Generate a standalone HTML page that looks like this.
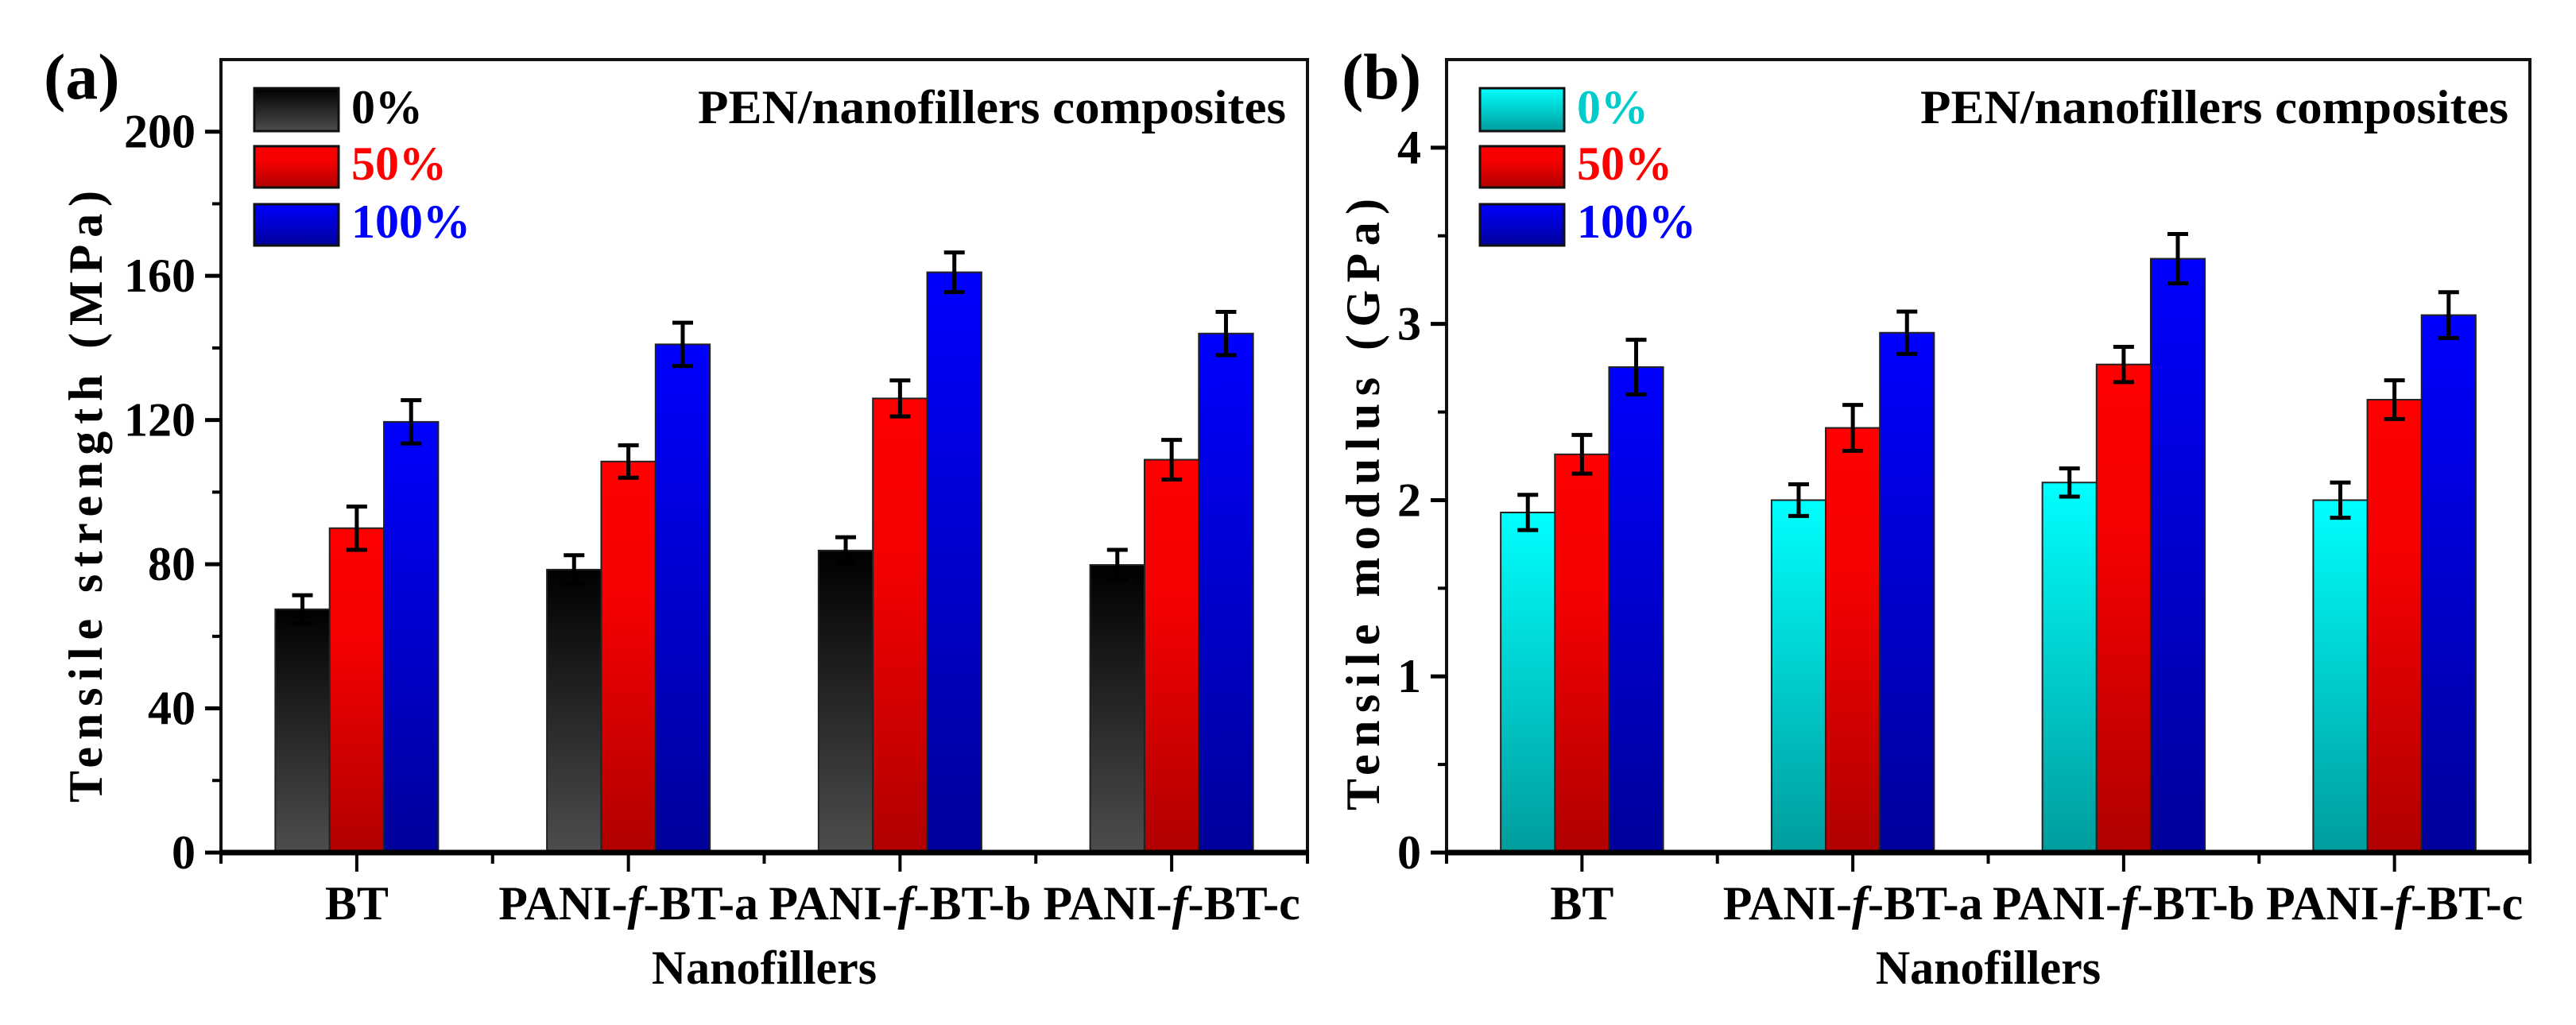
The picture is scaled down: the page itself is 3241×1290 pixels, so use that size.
<!DOCTYPE html>
<html><head><meta charset="utf-8"><style>
html,body{margin:0;padding:0;background:#fff;}
svg{display:block;font-family:"Liberation Serif",serif;font-weight:bold;}
</style></head><body>
<svg id="fig" width="3241" height="1290" viewBox="0 0 3241 1290" xmlns="http://www.w3.org/2000/svg">
<defs>
<linearGradient id="gGray" x1="0" y1="0" x2="0" y2="1"><stop offset="0" stop-color="#000"/><stop offset="1" stop-color="#4d4d4d"/></linearGradient>
<linearGradient id="gRed" x1="0" y1="0" x2="0" y2="1"><stop offset="0" stop-color="#ff0000"/><stop offset="0.35" stop-color="#f50000"/><stop offset="1" stop-color="#b00000"/></linearGradient>
<linearGradient id="gBlue" x1="0" y1="0" x2="0" y2="1"><stop offset="0" stop-color="#0000ff"/><stop offset="1" stop-color="#00009a"/></linearGradient>
<linearGradient id="gCyan" x1="0" y1="0" x2="0" y2="1"><stop offset="0" stop-color="#00ffff"/><stop offset="1" stop-color="#009c9c"/></linearGradient>
</defs>
</svg>
<script>
const categories = ["BT", "PANI-f-BT-a", "PANI-f-BT-b", "PANI-f-BT-c"];
const seriesNames = ["0%", "50%", "100%"];
// panel (a) tensile strength (MPa)
const strength0 = [67.5, 78.5, 83.8, 79.8];
const strength50 = [90, 108.5, 126, 109];
const strength100 = [119.5, 141, 161, 144];
const strengthErr0 = [3.9, 4.0, 3.7, 4.2];
const strengthErr50 = [6, 4.5, 5, 5.5];
const strengthErr100 = [6, 6, 5.5, 6];
const strengthTicks = [0, 40, 80, 120, 160, 200];
// panel (b) tensile modulus (GPa)
const modulus0 = [1.93, 2.0, 2.1, 2.0];
const modulus50 = [2.26, 2.41, 2.77, 2.57];
const modulus100 = [2.755, 2.95, 3.37, 3.05];
const modulusErr0 = [0.1, 0.09, 0.08, 0.1];
const modulusErr50 = [0.11, 0.13, 0.1, 0.11];
const modulusErr100 = [0.155, 0.12, 0.14, 0.13];
const modulusTicks = [0, 1, 2, 3, 4];

const NS = "http://www.w3.org/2000/svg";
const svg = document.getElementById("fig");
function mk(tag, attrs, parent, text) {
  const e = document.createElementNS(NS, tag);
  for (const k in attrs) e.setAttribute(k, attrs[k]);
  if (text !== undefined) e.textContent = text;
  (parent || svg).appendChild(e);
  return e;
}

function panel(cfg) {
  const g = mk("g", {});
  
  
  const L = cfg.left, R = cfg.right, T = 75, B = 1073;
  const y = v => B - (v / cfg.ymax) * (B - T);
  const cw = (R - L) / categories.length;
  const xc = i => L + cw * (i + 0.5);
  const bw = cw * 0.2;
  // bars
  const vals = [cfg.s0, cfg.s50, cfg.s100];
  const errs = [cfg.e0, cfg.e50, cfg.e100];
  const fills = [cfg.fill0, "url(#gRed)", "url(#gBlue)"];
  for (let s = 0; s < 3; s++) {
    for (let i = 0; i < categories.length; i++) {
      const x0 = xc(i) + (s - 1) * bw - bw / 2;
      const r = mk("rect", {x: x0, y: y(vals[s][i]), width: bw, height: B - y(vals[s][i]), fill: fills[s], stroke: "#222", "stroke-width": 2}, g);
      
      
      const cx = xc(i) + (s - 1) * bw;
      const yt = y(vals[s][i] + errs[s][i]), yb = y(vals[s][i] - errs[s][i]);
      const eb = mk("path", {d: `M${cx},${yt}V${yb}M${cx-13},${yt}H${cx+13}M${cx-13},${yb}H${cx+13}`, stroke: "#000", "stroke-width": 5, fill: "none"}, g);
      
      
    }
  }
  // frame
  const fr = mk("rect", {x: L, y: T, width: R - L, height: B - T, fill: "none", stroke: "#111", "stroke-width": 4}, g);
  
  
  mk("line", {x1: L - 2, x2: R + 2, y1: B, y2: B, stroke: "#000", "stroke-width": 7}, g);
  // y ticks
  cfg.ticks.forEach(t => {
    mk("line", {x1: L - 20, x2: L, y1: y(t), y2: y(t), stroke: "#000", "stroke-width": 5}, g);
    const tl = mk("text", {x: L - 32, y: y(t) + 20, "text-anchor": "end", "font-size": 60}, g, String(t));
    
    
    const m = t + cfg.minor;
    if (m < cfg.ymax) mk("line", {x1: L - 11, x2: L, y1: y(m), y2: y(m), stroke: "#000", "stroke-width": 4}, g);
  });
  // x ticks
  for (let i = 0; i <= categories.length; i++) {
    const xb = L + cw * i;
    mk("line", {x1: xb, x2: xb, y1: B, y2: B + 14, stroke: "#000", "stroke-width": 4}, g);
  }
  categories.forEach((c, i) => {
    mk("line", {x1: xc(i), x2: xc(i), y1: B, y2: B + 24, stroke: "#000", "stroke-width": 4}, g);
    const t = mk("text", {x: xc(i), y: 1157, "text-anchor": "middle", "font-size": 60}, g);
    
    
    const parts = c.split("-f-");
    if (parts.length === 2) {
      mk("tspan", {}, t, parts[0] + "-");
      mk("tspan", {"font-style": "italic"}, t, "f");
      mk("tspan", {}, t, "-" + parts[1]);
    } else t.textContent = c;
  });
  const xt = mk("text", {x: (L + R) / 2, y: 1238, "text-anchor": "middle", "font-size": 60}, g, "Nanofillers");
  
  
  const yt = mk("text", {x: 0, y: 0, "text-anchor": "middle", "font-size": 60, textLength: 770, lengthAdjust: "spacing", transform: `translate(${cfg.ytx},${cfg.yty}) rotate(-90)`}, g, cfg.ytitle);
  
  
  const pl = mk("text", {x: cfg.labelX, y: 124, "font-size": 82}, g, cfg.label);
  
  
  const ti = mk("text", {x: R - 27, y: 155, "text-anchor": "end", "font-size": 60, textLength: 740, lengthAdjust: "spacingAndGlyphs"}, g, "PEN/nanofillers composites");
  
  
  // legend
  const lboxX = L + 42, boxes = [[111, 165], [184, 236], [257, 309]];
  const lcol = [cfg.text0, "#ff0000", "#0000ff"];
  for (let s = 0; s < 3; s++) {
    const lg = mk("g", {}, g);
    
    
    mk("rect", {x: lboxX, y: boxes[s][0], width: 106, height: boxes[s][1] - boxes[s][0], fill: fills[s], stroke: "#111", "stroke-width": 3}, lg);
    mk("text", {x: lboxX + 122, y: boxes[s][1] - 10, "font-size": 60, fill: lcol[s]}, lg, seriesNames[s]);
  }
}

panel({name: "panel-a-tensile-strength", left: 278, right: 1645, ymax: 220, minor: 20, ticks: strengthTicks,
  s0: strength0, s50: strength50, s100: strength100, e0: strengthErr0, e50: strengthErr50, e100: strengthErr100,
  fill0: "url(#gGray)", text0: "#000", ytitle: "Tensile strength (MPa)", ytx: 128, yty: 625, label: "(a)", labelX: 55});
panel({name: "panel-b-tensile-modulus", left: 1820, right: 3183, ymax: 4.5, minor: 0.5, ticks: modulusTicks,
  s0: modulus0, s50: modulus50, s100: modulus100, e0: modulusErr0, e50: modulusErr50, e100: modulusErr100,
  fill0: "url(#gCyan)", text0: "#00cccc", ytitle: "Tensile modulus (GPa)", ytx: 1735, yty: 635, label: "(b)", labelX: 1688});
</script>
</body></html>
